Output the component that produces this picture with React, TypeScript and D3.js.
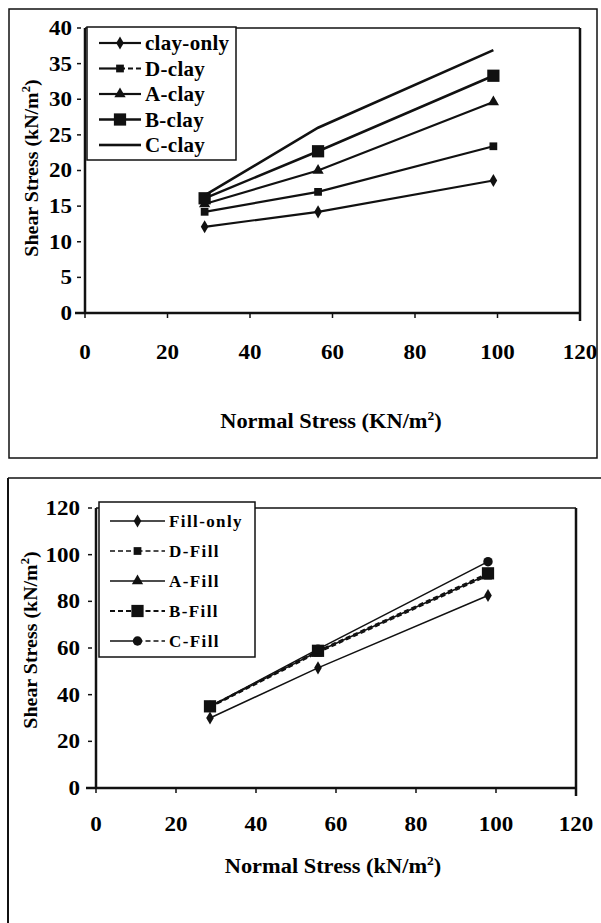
import React from 'react';
import * as d3 from 'd3';

// normal stress values (x)
const clayX = [29, 56.5, 99];
const fillX = [28.5, 55.5, 98];

// shear stress series, top chart
const clayOnly = [12.1, 14.2, 18.6];
const dClay = [14.2, 17.0, 23.4];
const aClay = [15.3, 20.0, 29.6];
const bClay = [16.1, 22.7, 33.3];
const cClay = [16.5, 26.0, 36.9];

// shear stress series, bottom chart
const fillOnly = [30.0, 51.5, 82.5];
const dFill = [34.5, 58.0, 91.0];
const aFill = [34.8, 58.5, 91.5];
const bFill = [35.0, 58.8, 92.0];
const cFill = [35.0, 59.5, 97.0];

const xTicks = [0, 20, 40, 60, 80, 100, 120];
const yTicksTop = [0, 5, 10, 15, 20, 25, 30, 35, 40];
const yTicksBot = [0, 20, 40, 60, 80, 100, 120];

const FONT = '"Liberation Serif", "Times New Roman", serif';

type Marker = 'diamond' | 'square' | 'bigsquare' | 'triangle' | 'circle' | 'none';

const Mark = ({ kind, x, y }: { kind: Marker; x: number; y: number }) => {
  if (kind === 'none') return null;
  const sym =
    kind === 'diamond' ? d3.symbolDiamond :
    kind === 'triangle' ? d3.symbolTriangle :
    kind === 'circle' ? d3.symbolCircle : d3.symbolSquare;
  const size =
    kind === 'bigsquare' ? 150 : kind === 'square' ? 60 : kind === 'circle' ? 70 : kind === 'triangle' ? 55 : 50;
  const p = d3.symbol().type(sym).size(size)();
  return <path d={p || ''} transform={`translate(${x},${y})`} fill="#111" />;
};

type Series = { name: string; values: number[]; marker: Marker; dash?: string; width: number; legendDash?: 'right' | 'both' | 'none' };

const topSeries: Series[] = [
  { name: 'clay-only', values: clayOnly, marker: 'diamond', width: 2.2 },
  { name: 'D-clay', values: dClay, marker: 'square', width: 2.2, legendDash: 'right' },
  { name: 'A-clay', values: aClay, marker: 'triangle', width: 2.2 },
  { name: 'B-clay', values: bClay, marker: 'bigsquare', width: 2.5 },
  { name: 'C-clay', values: cClay, marker: 'none', width: 2.6 },
];

const botSeries: Series[] = [
  { name: 'Fill-only', values: fillOnly, marker: 'diamond', width: 1.5 },
  { name: 'D-Fill', values: dFill, marker: 'square', width: 1.5, dash: '5,3', legendDash: 'both' },
  { name: 'A-Fill', values: aFill, marker: 'triangle', width: 1.5 },
  { name: 'B-Fill', values: bFill, marker: 'bigsquare', width: 1.8, dash: '5,3', legendDash: 'both' },
  { name: 'C-Fill', values: cFill, marker: 'circle', width: 1.5, legendDash: 'right' },
];

const Chart = ({
  xs, series, yTicks, x, y, ticksFont, legend, xLabel, yLabelPos, xLabelPos, xTickY, yTickGap,
}: any) => {
  const [x0, x1] = x.range();
  const [y0, y1] = y.range();
  const line = (vals: number[]) =>
    d3.line<number>().x((_, i) => x(xs[i])).y((v) => y(v))(vals) || '';
  return (
    <g>
      {/* plot box */}
      <line x1={x0} y1={y1} x2={x1} y2={y1} stroke="#111" strokeWidth={1.5} />
      <line x1={x1} y1={y1} x2={x1} y2={y0 + 8} stroke="#111" strokeWidth={2.5} />
      <line x1={x0} y1={y1} x2={x0} y2={y0} stroke="#111" strokeWidth={2.5} />
      <line x1={x0 - 10} y1={y0} x2={x1} y2={y0} stroke="#111" strokeWidth={2.5} />
      {yTicks.map((t: number) => (
        <g key={t}>
          <line x1={x0 - 8} x2={x0 - 4} y1={y(t)} y2={y(t)} stroke="#111" strokeWidth={1.5} />
          <text x={x0 - yTickGap} y={y(t)} dy="0.35em" textAnchor="end" fontFamily={FONT} fontWeight="bold"
            fontSize={ticksFont} transform={`translate(${x0 - yTickGap},0) scale(1.15,1) translate(${-(x0 - yTickGap)},0)`}>{t}</text>
        </g>
      ))}
      {xTicks.map((t) => (
        <g key={t}>
          <line x1={x(t)} x2={x(t)} y1={y0} y2={y0 + 5} stroke="#111" strokeWidth={1.5} />
          <text x={x(t)} y={xTickY} dy="0.35em" textAnchor="middle" fontFamily={FONT} fontWeight="bold" fontSize={ticksFont}
            transform={`translate(${x(t)},0) scale(1.15,1) translate(${-x(t)},0)`}>{t}</text>
        </g>
      ))}
      {series.map((s: Series) => (
        <g key={s.name}>
          <path d={line(s.values)} fill="none" stroke="#111" strokeWidth={s.width} strokeDasharray={s.dash} />
          {s.values.map((v, i) => (
            <Mark key={i} kind={s.marker} x={x(xs[i])} y={y(v)} />
          ))}
        </g>
      ))}
      {/* legend */}
      <rect x={legend.x} y={legend.y} width={legend.w} height={legend.h} fill="#fff" stroke="#111" strokeWidth={1.5} />
      {series.map((s: Series, i: number) => {
        const ly = legend.y + legend.first + i * legend.step;
        const a = legend.x + legend.lx0;
        const b = legend.x + legend.lx1;
        const m = (a + b) / 2;
        return (
          <g key={s.name}>
            <line x1={a} x2={m} y1={ly} y2={ly} stroke="#111" strokeWidth={s.width}
              strokeDasharray={s.legendDash === 'both' ? '5,3' : undefined} />
            <line x1={m} x2={b} y1={ly} y2={ly} stroke="#111" strokeWidth={s.width}
              strokeDasharray={s.legendDash === 'both' || s.legendDash === 'right' ? '5,3' : undefined} />
            <Mark kind={s.marker} x={m} y={ly} />
            <text x={b + 4} y={ly} dy="0.35em" fontFamily={FONT} fontWeight="bold" fontSize={legend.font}
              letterSpacing={legend.spacing}>{s.name}</text>
          </g>
        );
      })}
      <text x={xLabelPos[0]} y={xLabelPos[1]} textAnchor="middle" fontFamily={FONT} fontWeight="bold" fontSize={20}
        transform={`translate(${xLabelPos[0]},0) scale(1.12,1) translate(${-xLabelPos[0]},0)`}>
        {xLabel}
        <tspan fontSize={12} dy={-8}>2</tspan>
        <tspan dy={8}>)</tspan>
      </text>
      <text transform={`translate(${yLabelPos[0]},${yLabelPos[1]}) rotate(-90) scale(1.05,1)`} textAnchor="middle" fontFamily={FONT}
        fontWeight="bold" fontSize={19}>
        Shear Stress (kN/m<tspan fontSize={12} dy={-8}>2</tspan><tspan dy={8}>)</tspan>
      </text>
    </g>
  );
};

export default function App() {
  const xTop = d3.scaleLinear().domain([0, 120]).range([85, 580]);
  const yTop = d3.scaleLinear().domain([0, 40]).range([313, 28]);
  const xBot = d3.scaleLinear().domain([0, 120]).range([96, 576]);
  const yBot = d3.scaleLinear().domain([0, 120]).range([788, 508]);
  return (
    <svg width={601} height={923} style={{ position: 'absolute', left: 0, top: 0, background: '#fff' }}>
      <rect x={0} y={0} width={601} height={923} fill="#fff" />
      {/* outer frames */}
      <rect x={9} y={9} width={588} height={449} fill="none" stroke="#111" strokeWidth={1.5} />
      <line x1={8} y1={478} x2={601} y2={478} stroke="#111" strokeWidth={1.5} />
      <line x1={8} y1={478} x2={8} y2={923} stroke="#111" strokeWidth={2} />
      <Chart
        xs={clayX} series={topSeries} yTicks={yTicksTop} x={xTop} y={yTop} ticksFont={20} yTickGap={13}
        legend={{ x: 87, y: 27, w: 149, h: 133, first: 16, step: 25.5, lx0: 12, lx1: 54, font: 21, spacing: 0.3 }}
        xLabel="Normal Stress (KN/m" xLabelPos={[331, 428]} yLabelPos={[38, 168]} xTickY={352}
      />
      <Chart
        xs={fillX} series={botSeries} yTicks={yTicksBot} x={xBot} y={yBot} ticksFont={20} yTickGap={16}
        legend={{ x: 99, y: 502, w: 156, h: 155, first: 19, step: 30, lx0: 11, lx1: 66, font: 17, spacing: 1.4 }}
        xLabel="Normal Stress (kN/m" xLabelPos={[333, 873]} yLabelPos={[37, 640]} xTickY={824}
      />
    </svg>
  );
}
